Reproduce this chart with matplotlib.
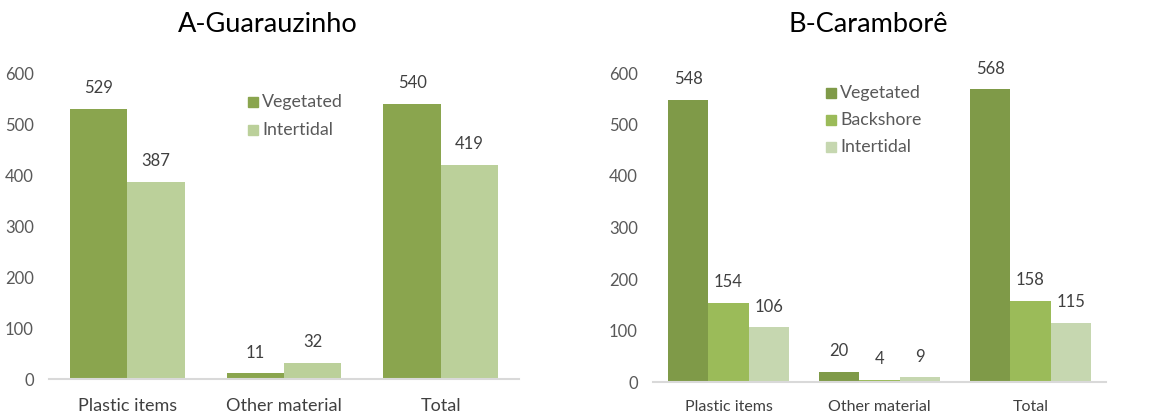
import numpy as np
import matplotlib
matplotlib.use("Agg")
import matplotlib.pyplot as plt

plt.rcParams["font.family"] = ["Lato", "DejaVu Sans"]

categories = ["Plastic items", "Other material", "Total"]

# Panel A - Guarauzinho
a_title = "A-Guarauzinho"
a_series = ["Vegetated", "Intertidal"]
a_vegetated = [529, 11, 540]
a_intertidal = [387, 32, 419]
a_colors = ["#8aa54e", "#bbd09a"]

# Panel B - Caramborê
b_title = "B-Caramborê"
b_series = ["Vegetated", "Backshore", "Intertidal"]
b_vegetated = [548, 20, 568]
b_backshore = [154, 4, 158]
b_intertidal = [106, 9, 115]
b_colors = ["#7f9a48", "#9bbb59", "#c6d7b0"]

yticks = [0, 100, 200, 300, 400, 500, 600]

fig = plt.figure(figsize=(11.54, 4.19), dpi=100)


def draw_panel(ax, series_names, values, colors, group_frac, tick_fs, cat_fs,
               cat_pad, legend_xy, legend_dy):
    n = len(values)
    x = np.arange(len(categories))
    w = group_frac / n
    for i, (vals, c) in enumerate(zip(values, colors)):
        pos = x - group_frac / 2 + w * (i + 0.5)
        ax.bar(pos, vals, width=w, color=c, edgecolor="none", zorder=2)
        for px, v in zip(pos, vals):
            ax.annotate(str(v), xy=(px, v), xytext=(0, 15),
                        textcoords="offset points", ha="center", va="center",
                        fontsize=12, color="#404040")
    ax.set_xlim(-0.5, len(categories) - 0.5)
    ax.set_ylim(0, 600)
    ax.set_yticks(yticks)
    ax.set_yticklabels([str(t) for t in yticks], fontsize=tick_fs,
                       color="#595959")
    ax.set_xticks(x)
    ax.set_xticklabels(categories, fontsize=cat_fs, color="#404040")
    ax.tick_params(axis="y", length=0, pad=11)
    ax.tick_params(axis="x", length=0, pad=cat_pad)
    for s in ["top", "right", "left"]:
        ax.spines[s].set_visible(False)
    ax.spines["bottom"].set_color("#d9d9d9")
    ax.spines["bottom"].set_linewidth(1.5)
    # legend drawn as squares + text in figure pixels
    lx, ly = legend_xy
    for i, (name, c) in enumerate(zip(series_names, colors)):
        yy = ly + i * legend_dy
        fig.patches.append(plt.Rectangle((lx / 1154, 1 - (yy + 5) / 419),
                                         10 / 1154, 10 / 419,
                                         transform=fig.transFigure,
                                         color=c, figure=fig))
        fig.text((lx + 14) / 1154, 1 - yy / 419, name, fontsize=12.8,
                 color="#595959", va="center", ha="left")


ax_a = fig.add_axes([49 / 1154, 40 / 419, 470 / 1154, 306 / 419])
draw_panel(ax_a, a_series, [a_vegetated, a_intertidal], a_colors,
           0.73, 12, 13, 14, (248, 102), 28)
fig.text(268 / 1154, 1 - 24 / 419, a_title, fontsize=19.5, ha="center",
         va="center", color="black")

ax_b = fig.add_axes([653 / 1154, 37 / 419, 453 / 1154, 309 / 419])
draw_panel(ax_b, b_series, [b_vegetated, b_backshore, b_intertidal], b_colors,
           0.80, 12, 11.5, 13, (826, 93), 27)
fig.text(868 / 1154, 1 - 24 / 419, b_title, fontsize=19.5, ha="center",
         va="center", color="black")

fig.savefig("out.png", dpi=100)
